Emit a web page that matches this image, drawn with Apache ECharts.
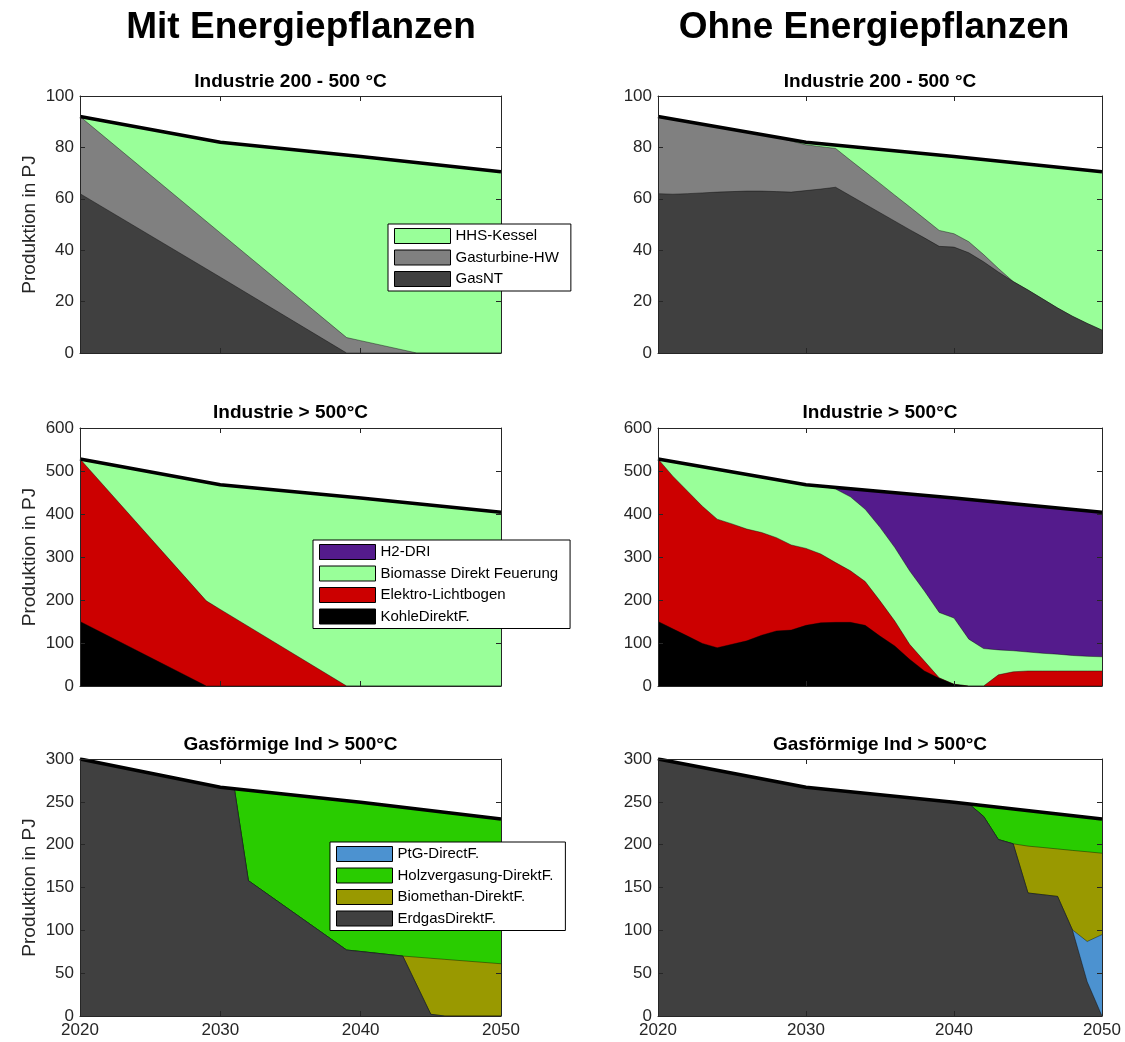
<!DOCTYPE html>
<html><head><meta charset="utf-8">
<script src="https://cdn.jsdelivr.net/npm/echarts@6/dist/echarts.min.js"></script>
<style>html,body{margin:0;padding:0;background:#fff}#c{width:1125px;height:1042px}</style>
</head><body><div id="c"></div>
<script>
// ---------- DATA ----------
const decades = [2020, 2030, 2040, 2050];
const xTicks = [2020, 2030, 2040, 2050];
const yearsR = [2020,2021,2022,2023,2024,2025,2026,2027,2028,2029,2030,2031,2032,2033,2034,2035,2036,2037,2038,2039,2040,2041,2042,2043,2044,2045,2046,2047,2048,2049,2050];

// demand (total) lines
const demand1 = [92, 82, 76.5, 70.5];
const demand2 = [528, 468, 437, 404];
const demand3 = [300, 267, 249.5, 230];

// Left 1: Mit Energiepflanzen, Industrie 200 - 500 °C
const yearsL1 = [2020, 2030, 2039, 2040, 2044, 2050];
const L1_GasNT = [62, 29.5, 0, 0, 0, 0];
const L1_Gasturbine = [30, 17.2, 6, 4.8, 0, 0];
const L1_HHS = [0, 35.3, 71, 71.7, 74.1, 70.5];

// Left 2: Industrie > 500°C
const yearsL2 = [2020, 2029, 2030, 2039, 2040, 2050];
const L2_Kohle = [150, 0, 0, 0, 0, 0];
const L2_Elektro = [378, 198, 178, 0, 0, 0];
const L2_Biomasse = [0, 276, 290, 440, 437, 404];
const L2_H2 = [0, 0, 0, 0, 0, 0];

// Left 3: Gasförmige Ind > 500°C
const yearsL3 = [2020, 2030, 2031, 2032, 2039, 2040, 2043, 2045, 2046, 2050];
const L3_Erdgas = [300, 267, 265.3, 158, 77, 75.3, 70, 2, 0, 0];
const L3_PtG = [0, 0, 0, 0, 0, 0, 0, 0, 0, 0];
const L3_Biomethan = [0, 0, 0, 0, 0, 0, 0, 65.4, 66.1, 61];
const L3_Holz = [0, 0, 0, 105.5, 174.3, 174.2, 173.7, 172.4, 171.7, 169];

// Right 1: Ohne Energiepflanzen, Industrie 200 - 500 °C
const R1_GasNT = [62,61.8,62,62.3,62.6,62.8,63,63,62.8,62.6,63.2,63.8,64.5,61.2,57.9,54.6,51.3,48,44.8,41.5,41.2,39,35.5,31.5,27.8,24.5,21,17.5,14.3,11.5,8.9];
const R1_Gasturbine = [30,29.2,28,26.7,25.4,24.2,23,22,21.2,19.9,17.8,16.5,15.1,13.8,12.6,11.4,10.1,8.9,7.5,6.2,5.2,4.3,2.8,1.4,0,0,0,0,0,0,0];
const R1_HHS = [0,0,0,0,0,0,0,0,0,0.5,1,1.1,1.3,5.3,9.3,13.2,17.3,21.2,25.3,29.3,30.1,32.6,37,41.8,46.3,49,51.9,54.8,57.4,59.6,61.6];

// Right 2: Industrie > 500°C
const R2_Kohle = [150,133,116,99,89,97,105,118,128,130,141,147,148,148,141,116,93,62,35,18,4,0,0,0,0,0,0,0,0,0,0];
const R2_Elektro = [378,355,337,319,299,280,260,239,217,198,179,160,139,120,102,82,58,35,23,1,0,0,0,26,33,35,35,35,35,35,35];
const R2_Biomasse = [0,34,63,92,116,121,127,129,135,146,148,158,171,172,168,171,171,171,163,152,154,109,87,58,49,44,41,39,36,34,33];
const R2_H2 = [0,0,0,0,0,0,0,0,0,0,0,0,4,19,45,83,127,178,222,269,279,325,343,343,342,342,341,340,340,338,336];

// Right 3: Gasförmige Ind > 500°C
const R3_Erdgas = [300,296.7,293.4,290.1,286.8,283.5,280.2,276.9,273.6,270.3,267,265.3,263.5,261.8,260,258.3,256.5,254.8,253,251.3,249.5,247.6,233,206,201,143.6,141.6,139.6,100.6,40,0];
const R3_PtG = [0,0,0,0,0,0,0,0,0,0,0,0,0,0,0,0,0,0,0,0,0,0,0,0,0,0,0,0,0,47,95];
const R3_Biomethan = [0,0,0,0,0,0,0,0,0,0,0,0,0,0,0,0,0,0,0,0,0,0,0,0,0,54.7,55.1,55.4,92.7,104.7,95];
const R3_Holz = [0,0,0,0,0,0,0,0,0,0,0,0,0,0,0,0,0,0,0,0,0,0,12.6,37.7,40.7,41.5,41.1,40.9,40.6,40.3,40];

const legend1 = ['HHS-Kessel', 'Gasturbine-HW', 'GasNT'];
const legend2 = ['H2-DRI', 'Biomasse Direkt Feuerung', 'Elektro-Lichtbogen', 'KohleDirektF.'];
const legend3 = ['PtG-DirectF.', 'Holzvergasung-DirektF.', 'Biomethan-DirektF.', 'ErdgasDirektF.'];
const panelTitles = ['Industrie 200 - 500 °C', 'Industrie > 500°C', 'Gasförmige Ind > 500°C'];
const columnTitles = ['Mit Energiepflanzen', 'Ohne Energiepflanzen'];
const yAxisName = 'Produktion in PJ';

// ---------- STYLE / LAYOUT ----------
const FF = "'Liberation Sans', Arial, Helvetica, sans-serif";
const COL = {
  'HHS-Kessel': '#99FF99', 'Gasturbine-HW': '#808080', 'GasNT': '#404040',
  'H2-DRI': '#541B8C', 'Biomasse Direkt Feuerung': '#99FF99', 'Elektro-Lichtbogen': '#CC0000', 'KohleDirektF.': '#000000',
  'PtG-DirectF.': '#4C92D0', 'Holzvergasung-DirektF.': '#29CC00', 'Biomethan-DirektF.': '#999900', 'ErdgasDirektF.': '#404040'
};
const gLeft = [80, 658], gWidth = [421, 444];
const gTop = [96, 428, 759], gHeight = [257, 258, 257];
const yMax = [100, 600, 300], yInt = [20, 100, 50];
const titleY = [82, 413, 745];

// panels: stacks listed bottom to top
const panels = [
  {col:0,row:0,years:yearsL1,stacks:[['GasNT',L1_GasNT],['Gasturbine-HW',L1_Gasturbine],['HHS-Kessel',L1_HHS]],demand:demand1},
  {col:0,row:1,years:yearsL2,stacks:[['KohleDirektF.',L2_Kohle],['Elektro-Lichtbogen',L2_Elektro],['Biomasse Direkt Feuerung',L2_Biomasse],['H2-DRI',L2_H2]],demand:demand2},
  {col:0,row:2,years:yearsL3,stacks:[['ErdgasDirektF.',L3_Erdgas],['PtG-DirectF.',L3_PtG],['Biomethan-DirektF.',L3_Biomethan],['Holzvergasung-DirektF.',L3_Holz]],demand:demand3},
  {col:1,row:0,years:yearsR,stacks:[['GasNT',R1_GasNT],['Gasturbine-HW',R1_Gasturbine],['HHS-Kessel',R1_HHS]],demand:demand1},
  {col:1,row:1,years:yearsR,stacks:[['KohleDirektF.',R2_Kohle],['Elektro-Lichtbogen',R2_Elektro],['Biomasse Direkt Feuerung',R2_Biomasse],['H2-DRI',R2_H2]],demand:demand2},
  {col:1,row:2,years:yearsR,stacks:[['ErdgasDirektF.',R3_Erdgas],['PtG-DirectF.',R3_PtG],['Biomethan-DirektF.',R3_Biomethan],['Holzvergasung-DirektF.',R3_Holz]],demand:demand3}
];

const grids = [], xAxes = [], yAxes = [], series = [], graphics = [];
const axCol = '#262626';
const fmt = v => String(v);
panels.forEach((p, gi) => {
  grids.push({left: gLeft[p.col], top: gTop[p.row], width: gWidth[p.col], height: gHeight[p.row], containLabel: false, outerBoundsMode: 'none', show: false});
  const common = () => ({axisLine: {show: true, onZero: false, lineStyle: {color: axCol, width: 1}},
    axisTick: {show: true, inside: true, length: 5, lineStyle: {color: axCol, width: 1}},
    splitLine: {show: false}, z: 20});
  xAxes.push(Object.assign({type: 'value', gridIndex: gi, position: 'bottom', min: xTicks[0], max: xTicks[3], interval: 10,
    axisLabel: {show: p.row === 2, fontSize: 17, color: axCol, margin: 6, fontFamily: FF, formatter: fmt}}, common()));
  xAxes.push(Object.assign({type: 'value', gridIndex: gi, position: 'top', min: xTicks[0], max: xTicks[3], interval: 10,
    axisLabel: {show: false}}, common()));
  yAxes.push(Object.assign({type: 'value', gridIndex: gi, position: 'left', min: 0, max: yMax[p.row], interval: yInt[p.row],
    axisLabel: {show: true, fontSize: 17, color: axCol, margin: 6, fontFamily: FF, formatter: fmt},
    name: p.col === 0 ? yAxisName : '', nameLocation: 'middle', nameGap: 41,
    nameTextStyle: {fontSize: 19, color: axCol, fontFamily: FF}}, common()));
  yAxes.push(Object.assign({type: 'value', gridIndex: gi, position: 'right', min: 0, max: yMax[p.row], interval: yInt[p.row],
    axisLabel: {show: false}}, common()));
  // stacked areas: cumulative tops, each filled to the axis; lower layers painted above upper ones
  const n = p.stacks.length;
  let cum = p.years.map(() => 0);
  p.stacks.forEach(([name, vals], k) => {
    cum = cum.map((c, i) => c + vals[i]);
    series.push({type: 'line', name, xAxisIndex: 2*gi, yAxisIndex: 2*gi,
      data: p.years.map((y, i) => [y, Math.round(cum[i] * 1000) / 1000]), symbol: 'none', showSymbol: false,
      color: COL[name], itemStyle: {color: COL[name]},
      lineStyle: {width: 0.5, color: '#000', opacity: 0.8}, areaStyle: {color: COL[name], opacity: 1, origin: 'start'},
      z: 2 + (n - k), silent: true});
  });
  series.push({type: 'line', name: 'Bedarf', xAxisIndex: 2*gi, yAxisIndex: 2*gi,
    data: decades.map((y, i) => [y, p.demand[i]]), symbol: 'none', showSymbol: false,
    lineStyle: {color: '#000', width: 3.5}, color: '#000', z: 15, silent: true});
  graphics.push({type: 'text', x: gLeft[p.col] + gWidth[p.col] / 2, y: titleY[p.row], z: 20,
    style: {text: panelTitles[p.row], font: 'bold 19px ' + FF, fill: '#000', textAlign: 'center', textVerticalAlign: 'middle'}});
});
graphics.push({type: 'text', x: 301, y: 28, z: 20, style: {text: columnTitles[0], font: 'bold 37px ' + FF, fill: '#000', textAlign: 'center', textVerticalAlign: 'middle'}});
graphics.push({type: 'text', x: 874, y: 28, z: 20, style: {text: columnTitles[1], font: 'bold 37px ' + FF, fill: '#000', textAlign: 'center', textVerticalAlign: 'middle'}});

const legendBase = {orient: 'vertical', itemWidth: 56, itemHeight: 15, itemGap: 5.5, icon: 'rect',
  padding: [4, 12, 4, 6], backgroundColor: '#fff', borderColor: '#000', borderWidth: 1, borderRadius: 0,
  textStyle: {fontSize: 15, color: '#000', fontFamily: FF}, itemStyle: {borderColor: '#000', borderWidth: 1},
  selectedMode: false, z: 30};
const legends = [
  Object.assign({}, legendBase, {data: legend1, left: 388, top: 224}),
  Object.assign({}, legendBase, {data: legend2, left: 313, top: 540}),
  Object.assign({}, legendBase, {data: legend3, left: 330, top: 842})
];

const chart = echarts.init(document.getElementById('c'), null, {renderer: 'canvas'});
chart.setOption({animation: false, backgroundColor: '#fff', grid: grids, xAxis: xAxes, yAxis: yAxes,
  series, legend: legends, graphic: graphics, tooltip: {show: false}});
</script></body></html>
